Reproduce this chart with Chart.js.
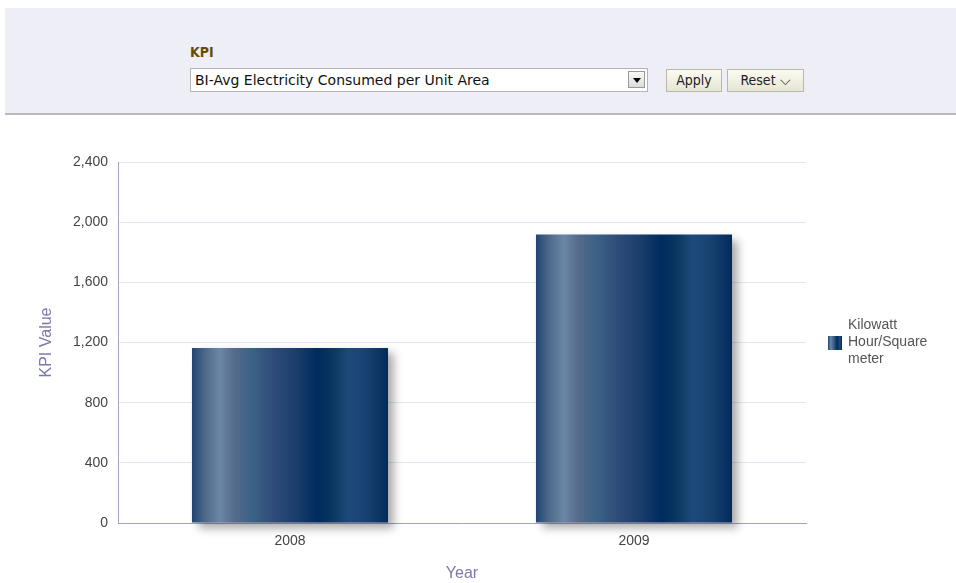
<!DOCTYPE html>
<html>
<head>
<meta charset="utf-8">
<script src="https://cdn.jsdelivr.net/npm/chart.js@4/dist/chart.umd.min.js"></script>
<style>
  html, body { margin: 0; padding: 0; background: #fff; }
  body { width: 956px; height: 583px; position: relative; overflow: hidden; font-family: 'Liberation Sans', Arial, sans-serif; }
  .prompt-bar {
    position: absolute; left: 5px; top: 8px; width: 951px; height: 105px;
    background: #eeeef6; border-bottom: 2px solid #b9b9bd;
  }
  .kpi-label {
    position: absolute; left: 190px; top: 44px;
    font: bold 14px 'DejaVu Sans Condensed', sans-serif; color: #6b4c05;
  }
  .kpi-select {
    position: absolute; left: 190px; top: 68px; width: 458px; height: 24px;
    background: #fff; border: 1px solid #b4b4b4; box-sizing: border-box;
    font: 14px 'DejaVu Sans', sans-serif; color: #111; line-height: 22px; padding-left: 4px;
  }
  .kpi-select .arrow {
    position: absolute; right: 2px; top: 2px; width: 17px; height: 17px;
    background: linear-gradient(#fafafa, #dcdcdc); border: 1px solid #9a9a9a; box-sizing: border-box;
  }
  .kpi-select .arrow::after {
    content: ''; position: absolute; left: 4px; top: 6px;
    border-left: 4px solid transparent; border-right: 4px solid transparent; border-top: 5px solid #000;
  }
  .btn {
    position: absolute; top: 69px; height: 23px; box-sizing: border-box;
    background: linear-gradient(#fbfbf0, #e6e6d6); border: 1px solid #b8b8a8;
    font: 14px 'DejaVu Sans Condensed', sans-serif; color: #222; line-height: 21px; text-align: center;
  }
  #chart-wrap { position: absolute; left: 0; top: 130px; width: 956px; height: 453px; }
  .legend { position: absolute; left: 828px; top: 316px; font: 14px 'Liberation Sans', Arial, sans-serif; color: #555; }
  .legend .swatch {
    position: absolute; left: 0; top: 20px; width: 14px; height: 14px;
    background: linear-gradient(to right, #1f4675, #6c87a6 20%, #3a6285 40%, #002b5e 65%, #1d4a7a 85%, #022a5a);
  }
  .legend .text { position: absolute; left: 20px; top: 0; line-height: 17px; white-space: nowrap; }
</style>
</head>
<body>
  <div class="prompt-bar"></div>
  <div class="kpi-label">KPI</div>
  <div class="kpi-select">BI-Avg Electricity Consumed per Unit Area<span class="arrow"></span></div>
  <div class="btn" style="left:666px;width:56px;">Apply</div>
  <div class="btn" style="left:727px;width:77px;">Reset &#x2335;</div>

  <div id="chart-wrap"><canvas id="kpi-canvas" width="956" height="453"></canvas></div>
  <div class="legend"><span class="swatch"></span><div class="text">Kilowatt<br>Hour/Square<br>meter</div></div>

<script>
(function() {
  'use strict';

  const years = ['2008', '2009'];
  const kpiValues = [1163, 1918];
  const seriesName = 'Kilowatt Hour/Square meter';
  const yTicks = [0, 400, 800, 1200, 1600, 2000, 2400];

  // stripe colours across the width of each bar
  const STRIPES = [
    [0.00, '#1f4675'], [0.06, '#4a6585'], [0.14, '#6c87a6'], [0.22, '#55698a'],
    [0.30, '#3c6386'], [0.42, '#2e4b78'], [0.55, '#173b69'], [0.64, '#002b5e'],
    [0.72, '#0b3760'], [0.80, '#1d4a7a'], [0.90, '#17406f'], [1.00, '#022a5a']
  ];
  const BAR_PCT = 0.57;

  function barGradient(context) {
    const chart = context.chart;
    const xs = chart.scales && chart.scales.x;
    if (!chart.chartArea || !xs) return '#1d4a7a';
    const center = xs.getPixelForValue(context.dataIndex);
    const half = xs.width / years.length * BAR_PCT / 2;
    const g = chart.ctx.createLinearGradient(center - half, 0, center + half, 0);
    STRIPES.forEach(s => g.addColorStop(s[0], s[1]));
    return g;
  }

  // soft drop shadow behind the bars
  const barShadow = {
    id: 'barShadow',
    beforeDatasetsDraw(chart) {
      const ctx = chart.ctx;
      ctx.save();
      ctx.shadowColor = 'rgba(0,0,0,0.35)';
      ctx.shadowBlur = 9;
      ctx.shadowOffsetX = 6;
      ctx.shadowOffsetY = 5;
    },
    afterDatasetsDraw(chart) {
      chart.ctx.restore();
    }
  };

  const tickFont = { size: 14, family: "'Liberation Sans', Arial, sans-serif" };
  const titleFont = { size: 16, family: "'Liberation Sans', Arial, sans-serif" };

  new Chart(document.getElementById('kpi-canvas'), {
    type: 'bar',
    data: {
      labels: years,
      datasets: [{
        label: seriesName,
        data: kpiValues,
        backgroundColor: barGradient,
        borderWidth: 0,
        barPercentage: BAR_PCT,
        categoryPercentage: 1,
        clip: false
      }]
    },
    plugins: [barShadow],
    options: {
      responsive: false,
      animation: false,
      layout: { padding: { top: 32, right: 150, left: 0, bottom: 0 } },
      plugins: {
        legend: { display: false },
        tooltip: { enabled: false }
      },
      scales: {
        x: {
          afterFit: s => { s.height = 60; },
          grid: { display: false, drawTicks: false },
          border: { color: '#a3a3c4', width: 1 },
          ticks: { font: tickFont, color: '#444', padding: 10 },
          title: { display: true, text: 'Year', color: '#7a7aa8', font: titleFont, padding: { top: 0, bottom: 0 } }
        },
        y: {
          min: 0,
          max: 2400,
          afterFit: s => { s.width = 118; },
          afterBuildTicks: s => { s.ticks = yTicks.map(v => ({ value: v })); },
          grid: { color: '#e2e7f0', drawTicks: false },
          border: { color: '#a3a3c4', width: 1 },
          ticks: {
            font: tickFont, color: '#444', padding: 10,
            callback: v => v.toLocaleString('en-US')
          },
          title: { display: true, text: 'KPI Value', color: '#7a7aa8', font: titleFont, padding: { top: 37, bottom: 0 } }
        }
      }
    }
  });
})();
</script>
</body>
</html>
